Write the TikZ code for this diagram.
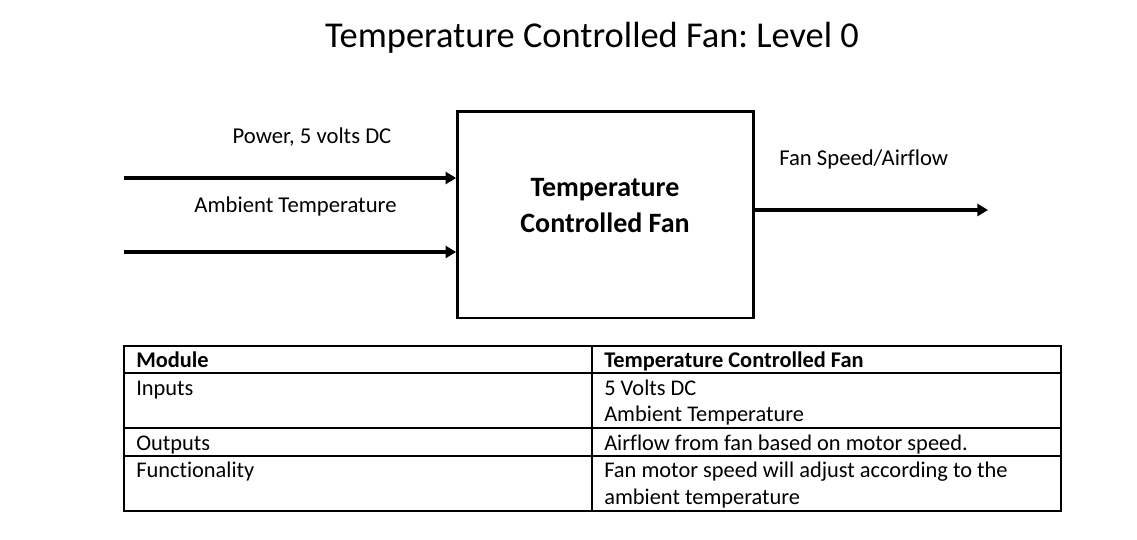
\documentclass[tikz,border=0pt]{standalone}
\usepackage{fontspec}
\setmainfont{Carlito}[Ligatures=NoCommon]
\usetikzlibrary{arrows.meta,positioning}
\frenchspacing

\begin{document}
\begin{tikzpicture}[x=0.75pt,y=-0.75pt,
  flow/.style={line width=3pt,-{Triangle[length=8pt,width=9pt]}},
  lbl/.style={font=\fontsize{17}{20}\selectfont,inner sep=0pt},
  cell/.style={font=\fontsize{16.8}{20}\selectfont,inner sep=0pt,anchor=base west},
  rule/.style={line width=0.8pt}]
  \useasboundingbox (0,0) rectangle (1137,539);

  % Title
  \node[font=\fontsize{27.3}{32}\selectfont,inner sep=0pt,anchor=base] (title) at (592,47) {Temperature Controlled Fan: Level 0};

  % The block itself
  \node[draw,line width=2pt,minimum width=222pt,minimum height=155pt,inner sep=0pt] (fan) at (605.5,214.5) {};
  \node[font=\bfseries\fontsize{21}{27}\selectfont,align=center] (fantxt) at (605,206) {Temperature\\Controlled Fan};

  % Inputs and output
  \coordinate (pin) at (124,178);
  \coordinate (ain) at (124,252);
  \coordinate (fout) at (988,210);
  \draw[flow] (pin) -- (pin -| fan.west);
  \draw[flow] (ain) -- (ain -| fan.west);
  \draw[flow] (fan.east |- fout) -- (fout);

  \node[lbl,anchor=base] (pinlbl) at (312,143) {Power, 5 volts DC};
  \node[lbl,anchor=base] (ainlbl) at (295.5,212) {Ambient Temperature};
  \node[lbl,anchor=base west] (foutlbl) at (779,165) {Fan Speed/Airflow};

  % Table below
  \draw[rule] (124,346) rectangle (1061,511);
  \draw[rule] (592,346) -- (592,511);
  \foreach \yy in {373,428,456}
    \draw[rule] (124,\yy) -- (1061,\yy);

  \node[cell,font=\bfseries\fontsize{16.8}{20}\selectfont] (module) at (136,367) {Module};
  \node[cell,font=\bfseries\fontsize{16.8}{20}\selectfont] (modname) at (604,367) {Temperature Controlled Fan};
  \node[cell] (inputs) at (136,395) {Inputs};
  \node[cell] (in1) at (604,395) {5 Volts DC};
  \node[cell] (in2) at (604,421) {Ambient Temperature};
  \node[cell] (outputs) at (136,450) {Outputs};
  \node[cell] (out1) at (604,450) {Airflow from fan based on motor speed.};
  \node[cell] (func) at (136,477) {Functionality};
  \node[cell] (func1) at (604,477) {Fan motor speed will adjust according to the};
  \node[cell] (func2) at (604,504) {ambient temperature};
\end{tikzpicture}
\end{document}
